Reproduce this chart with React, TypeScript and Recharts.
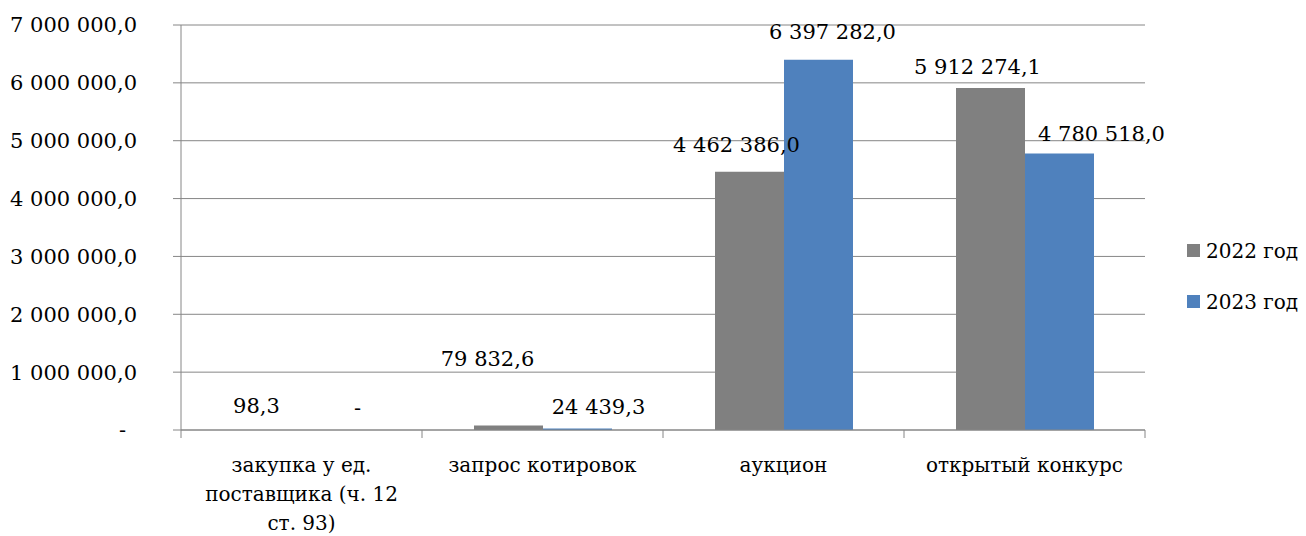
import { BarChart, Bar, XAxis, YAxis, CartesianGrid, Legend } from 'recharts';

const CATEGORIES = [
  'закупка у ед.\nпоставщика (ч. 12\nст. 93)',
  'запрос котировок',
  'аукцион',
  'открытый конкурс',
];
const SERIES_2022 = [98.3, 79832.6, 4462386.0, 5912274.1];
const SERIES_2023 = [0, 24439.3, 6397282.0, 4780518.0];
const Y_TICKS = [0, 1000000, 2000000, 3000000, 4000000, 5000000, 6000000, 7000000];

// manual label nudges (the source chart had labels dragged around)
const SHIFT_2022 = [[-11, -5], [-21, -47], [-13, -8], [-13, -2]];
const SHIFT_2023 = [[21, -3], [14, -9], [42, 0], [3, 5]];

const FONT = '"DejaVu Serif", "Noto Serif", Tinos, serif';
const GRID = '#868686';
const GRAY = '#808080';
const BLUE = '#4f81bd';
const PLOT_W = 964;
const BAND = PLOT_W / CATEGORIES.length;

const data = CATEGORIES.map((name, i) => ({
  name,
  y2022: SERIES_2022[i],
  y2023: SERIES_2023[i],
}));

function fmt(v: number) {
  if (!v) return '-';
  const [int, dec] = v.toFixed(1).split('.');
  return int.replace(/\B(?=(\d{3})+(?!\d))/g, ' ') + ',' + dec;
}

function YTick(props: any) {
  const { x, y, payload } = props;
  const zero = payload.value === 0;
  return (
    <text x={x - (zero ? 11 : 0)} y={y} dy="0.355em" textAnchor="end" fontSize={21} fill="#000" style={{ fontFamily: FONT }}>
      {fmt(payload.value)}
    </text>
  );
}

function XTick(props: any) {
  const { x, y, payload, index } = props;
  const lines = String(payload.value).split('\n');
  return (
    <g>
      <line x1={x - BAND / 2} y1={y} x2={x - BAND / 2} y2={y + 8} stroke={GRID} />
      {index === CATEGORIES.length - 1 && (
        <line x1={x + BAND / 2} y1={y} x2={x + BAND / 2} y2={y + 8} stroke={GRID} />
      )}
      <text textAnchor="middle" fontSize={20} fill="#000" style={{ fontFamily: FONT }}>
        {lines.map((l, i) => (
          <tspan key={i} x={x} y={y + 42 + i * 29}>
            {l}
          </tspan>
        ))}
      </text>
    </g>
  );
}

function makeLabel(shift: number[][]) {
  return (props: any) => {
    const { x, y, width, value, index } = props;
    const [dx, dy] = shift[index] || [0, 0];
    return (
      <text
        x={x + width / 2 + dx}
        y={y - 12 + dy}
        textAnchor="middle"
        fontSize={21}
        fill="#000"
        style={{ fontFamily: FONT }}
      >
        {fmt(value)}
      </text>
    );
  };
}

// 2022 label; also writes the "-" for an empty 2023 bar next to it,
// since recharts skips labels of zero-height bars
function label2022(props: any) {
  const { x, y, width, height, index } = props;
  const base = makeLabel(SHIFT_2022)(props);
  if (SERIES_2023[index] !== 0) return base;
  const [dx, dy] = SHIFT_2023[index];
  return (
    <g>
      {base}
      <text
        x={x + width * 1.5 + dx}
        y={y + height - 12 + dy}
        textAnchor="middle"
        fontSize={21}
        fill="#000"
        style={{ fontFamily: FONT }}
      >
        -
      </text>
    </g>
  );
}

function LegendBox(props: any) {
  const items = props.payload || [];
  return (
    <div style={{ fontFamily: FONT, fontSize: 20, color: '#000' }}>
      {items.map((it: any) => (
        <div key={it.value} style={{ display: 'flex', alignItems: 'center', height: 51 }}>
          <span style={{ width: 13, height: 13, background: it.color, marginRight: 6, display: 'inline-block' }} />
          <span>{it.value}</span>
        </div>
      ))}
    </div>
  );
}

export default function App() {
  return (
    <div style={{ position: 'absolute', left: 0, top: 0, background: '#fff', fontFamily: FONT }}>
      <BarChart
        width={1306}
        height={536}
        data={data}
        margin={{ top: 25, right: 161, bottom: 0, left: 0 }}
        barGap={0}
      >
        <CartesianGrid vertical={false} stroke={GRID} />
        <XAxis
          dataKey="name"
          height={106}
          tickSize={0}
          tickMargin={0}
          tickLine={false}
          axisLine={{ stroke: GRID }}
          tick={<XTick />}
          interval={0}
        />
        <YAxis
          width={181}
          domain={[0, 7000000]}
          ticks={Y_TICKS}
          interval={0}
          tickSize={8}
          tickMargin={36}
          axisLine={{ stroke: GRID }}
          tickLine={{ stroke: GRID }}
          tick={<YTick />}
        />
        <Legend
          layout="vertical"
          align="center"
          verticalAlign="middle"
          content={<LegendBox />}
          wrapperStyle={{ left: 1187, top: 225, width: 119 }}
        />
        <Bar dataKey="y2022" name="2022 год" fill={GRAY} barSize={69} isAnimationActive={false} label={label2022} />
        <Bar dataKey="y2023" name="2023 год" fill={BLUE} barSize={69} isAnimationActive={false} label={makeLabel(SHIFT_2023)} />
      </BarChart>
    </div>
  );
}
